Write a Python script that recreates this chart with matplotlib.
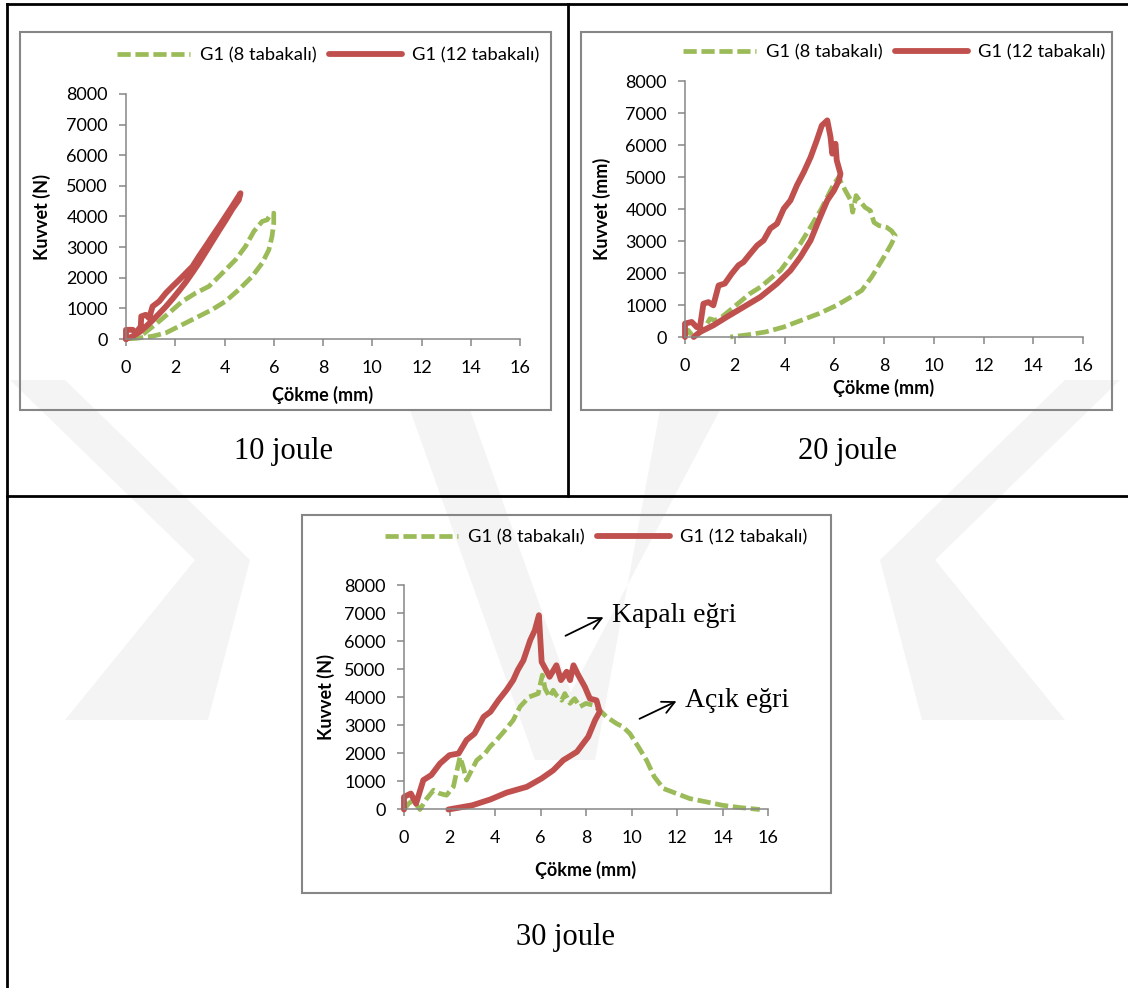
import matplotlib
matplotlib.use("Agg")
import matplotlib.pyplot as plt
from matplotlib.patches import Polygon, Rectangle, FancyArrowPatch
from matplotlib.lines import Line2D

W, H = 1128, 988

# --- veriler ---
x_ticks = [0, 2, 4, 6, 8, 10, 12, 14, 16]
y_ticks = [0, 1000, 2000, 3000, 4000, 5000, 6000, 7000, 8000]
etiket_8 = "G1 (8 tabakalı)"
etiket_12 = "G1 (12 tabakalı)"
x_etiket = "Çökme (mm)"
y_etiket_10 = "Kuvvet (N)"
y_etiket_20 = "Kuvvet (mm)"
y_etiket_30 = "Kuvvet (N)"
basliklar = ["10 joule", "20 joule", "30 joule"]

# 10 joule
x10_12 = [0, 0, 0.27, 0.4, 0.6, 0.62, 0.8, 0.94, 1.08, 1.35, 1.62, 1.89, 2.16, 2.43, 2.7, 2.96,
          3.23, 3.5, 3.77, 4.04, 4.31, 4.65, 4.58, 4.31, 4.04, 3.77, 3.5, 3.23, 2.96, 2.7, 2.43,
          2.16, 1.89, 1.62, 1.35, 1.08, 0.8, 0.54, 0.27, 0]
y10_12 = [0, 300, 300, 200, 410, 740, 790, 680, 1065, 1230, 1500, 1720, 1930, 2150, 2370, 2700,
          3020, 3350, 3670, 4000, 4330, 4760, 4540, 4230, 3870, 3530, 3180, 2830, 2480, 2170, 1860,
          1580, 1310, 1060, 830, 610, 400, 220, 90, 0]
x10_8 = [0, 0.67, 1.35, 1.82, 2.29, 2.83, 3.37, 3.91, 4.45, 4.85, 5.19, 5.53, 5.73, 5.86, 6.0,
         6.0, 5.93, 5.8, 5.53, 5.12, 4.58, 4.04, 3.5, 2.96, 2.29, 1.62, 1.08, 0.4, 0]
y10_8 = [0, 140, 580, 900, 1230, 1500, 1720, 2150, 2590, 3020, 3510, 3840, 3890, 4050, 4110,
         3780, 3350, 2910, 2480, 2040, 1610, 1230, 960, 740, 470, 200, 90, 20, 0]

# 20 joule
x20_12 = [0, 0, 0.27, 0.47, 0.6, 0.74, 0.94, 1.14, 1.35, 1.6, 1.88, 2.15, 2.35, 2.62, 2.9, 3.16,
          3.43, 3.7, 3.97, 4.24, 4.5, 4.78, 5.05, 5.3, 5.5, 5.72, 5.85, 5.92, 6.05, 6.1, 6.25,
          6.19, 5.99, 5.72, 5.38, 5.05, 4.64, 4.24, 3.7, 3.03, 2.36, 1.68, 1.14, 0.6, 0.35]
y20_12 = [0, 420, 470, 310, 300, 1040, 1090, 990, 1610, 1670, 1980, 2240, 2340, 2600, 2860, 3020,
          3390, 3540, 4010, 4270, 4740, 5160, 5620, 6150, 6610, 6770, 6250, 5730, 6040, 5520, 5100,
          4900, 4580, 4270, 3650, 3020, 2500, 2080, 1670, 1250, 940, 625, 365, 156, 0]
x20_8 = [0, 0.13, 0.34, 0.74, 1.0, 1.2, 1.48, 1.8, 2.2, 2.6, 3.03, 3.43, 3.84, 4.24, 4.64, 5.05,
         5.45, 5.72, 5.99, 6.19, 6.24, 6.45, 6.67, 6.74, 6.88, 7.02, 7.24, 7.45, 7.6, 7.8, 8.1,
         8.3, 8.45, 8.3, 7.95, 7.5, 7.1, 6.67, 6.1, 5.38, 4.67, 3.96, 3.25, 2.54, 1.82]
y20_8 = [0, 210, 0, 210, 570, 520, 625, 830, 1090, 1350, 1560, 1820, 2080, 2500, 2920, 3440,
         3960, 4370, 4790, 5000, 4880, 4570, 4260, 3900, 4420, 4260, 4050, 3950, 3580, 3480, 3430,
         3320, 3170, 2910, 2440, 1870, 1450, 1250, 990, 730, 520, 310, 160, 70, 0]

# 30 joule
x30_12 = [0, 0, 0.3, 0.53, 0.85, 1.2, 1.58, 2.0, 2.4, 2.75, 3.1, 3.5, 3.8, 4.15, 4.5, 4.8, 5.0,
          5.25, 5.55, 5.75, 5.93, 6.05, 6.4, 6.7, 6.9, 7.15, 7.3, 7.45, 7.66, 7.95, 8.17, 8.46,
          8.6, 8.4, 8.1, 7.6, 7.0, 6.56, 6.05, 5.4, 4.5, 3.8, 3.0, 1.95]
y30_12 = [0, 450, 570, 210, 1050, 1230, 1640, 1940, 2000, 2480, 2710, 3310, 3490, 3900, 4260,
          4620, 4980, 5330, 6050, 6400, 6940, 5270, 4740, 5150, 4620, 4920, 4620, 5150, 4800,
          4380, 3960, 3900, 3490, 3190, 2600, 2060, 1760, 1400, 1110, 810, 600, 360, 150, 0]
x30_8 = [0, 0.2, 0.4, 0.7, 1.0, 1.3, 1.58, 1.87, 2.17, 2.46, 2.6, 2.75, 2.97, 3.2, 3.56, 3.78,
         4.07, 4.44, 4.8, 5.1, 5.5, 5.9, 6.08, 6.2, 6.4, 6.56, 6.7, 6.93, 7.07, 7.3, 7.5, 7.73,
         8.0, 8.3, 8.6, 8.9, 9.34, 9.63, 9.93, 10.3, 10.66, 11.0, 11.4, 11.98, 12.56, 13.3, 14.0,
         14.76, 15.64]
y30_8 = [0, 210, 330, 0, 390, 690, 570, 510, 810, 1880, 1520, 1050, 1400, 1760, 2000, 2240,
         2480, 2830, 3190, 3670, 4020, 4140, 4800, 4320, 4020, 4260, 4080, 3900, 4140, 3790,
         3960, 3670, 3790, 3730, 3550, 3310, 3070, 2950, 2710, 2240, 1760, 1170, 750, 570, 390,
         270, 150, 70, 0]

KIRMIZI = "#C0504D"
YESIL = "#9BBB59"
GRI = "#868686"

plt.rcParams['font.family'] = ['Lato', 'DejaVu Sans']


def fx(x):
    return x / W


def fy(y):
    return 1 - y / H


def eksen(x0, x1, ytop, ybot):
    return [fx(x0), fy(ybot), (x1 - x0) / W, (ybot - ytop) / H]


fig = plt.figure(figsize=(W / 100, H / 100), dpi=100)
fig.patch.set_facecolor("white")

# filigran (çok soluk)
filigran = [
    [(10, 380), (65, 380), (250, 560), (195, 560)],
    [(195, 560), (250, 560), (208, 720), (65, 720)],
    [(1120, 380), (1065, 380), (880, 560), (935, 560)],
    [(935, 560), (880, 560), (922, 720), (1065, 720)],
    [(410, 410), (470, 410), (595, 760), (535, 760)],
    [(720, 410), (660, 410), (595, 760), (535, 760)],
]
for p in filigran:
    fig.add_artist(Polygon([(fx(a), fy(b)) for a, b in p], closed=True,
                           transform=fig.transFigure, facecolor="#f4f4f4",
                           edgecolor="none", zorder=0))

# tablo çizgileri
for (xa, ya, xb, yb) in [(7, 4, 1128, 4), (7, 4, 7, 988), (568, 4, 568, 496), (7, 496, 1128, 496)]:
    fig.add_artist(Line2D([fx(xa), fx(xb)], [fy(ya), fy(yb)], transform=fig.transFigure,
                          color="black", linewidth=2.0, zorder=1))

paneller = [
    dict(ax=(126, 520, 94, 339), kutu=(20, 32, 551, 410), x8=x10_8, y8=y10_8, x12=x10_12,
         y12=y10_12, ylab=y_etiket_10, ylx=42, xly=395, leg=(117, 55), cap=(283, 452)),
    dict(ax=(685, 1083, 81, 337), kutu=(581, 32, 1112, 410), x8=x20_8, y8=y20_8, x12=x20_12,
         y12=y20_12, ylab=y_etiket_20, ylx=602, xly=388, leg=(683, 52), cap=(847, 452)),
    dict(ax=(404, 768, 585.5, 809.5), kutu=(302, 515, 831, 893), x8=x30_8, y8=y30_8, x12=x30_12,
         y12=y30_12, ylab=y_etiket_30, ylx=326, xly=870, leg=(385, 537), cap=(565, 937)),
]

for i, p in enumerate(paneller):
    kx0, ky0, kx1, ky1 = p['kutu']
    fig.add_artist(Rectangle((fx(kx0), fy(ky1)), (kx1 - kx0) / W, (ky1 - ky0) / H,
                             transform=fig.transFigure, facecolor="none", edgecolor=GRI,
                             linewidth=1.5, zorder=2))
    ax = fig.add_axes(eksen(*p['ax']))
    ax.patch.set_alpha(0)
    ax.plot(p['x8'], p['y8'], color=YESIL, linewidth=3.4, dashes=(2.8, 1.0),
            label=etiket_8, clip_on=False, dash_capstyle='butt')
    ax.plot(p['x12'], p['y12'], color=KIRMIZI, linewidth=4.2, label=etiket_12,
            clip_on=False, solid_joinstyle='round', solid_capstyle='round')
    ax.set_xlim(0, 16)
    ax.set_ylim(0, 8000)
    ax.set_xticks(x_ticks)
    ax.set_yticks(y_ticks)
    for s in ['top', 'right']:
        ax.spines[s].set_visible(False)
    for s in ['left', 'bottom']:
        ax.spines[s].set_color(GRI)
        ax.spines[s].set_linewidth(1.1)
    ax.tick_params(axis='both', direction='out', length=5, width=1.1, color=GRI,
                   labelsize=13, labelcolor='black')
    ax.tick_params(axis='x', pad=10)
    ax.tick_params(axis='y', pad=8)
    x0, x1, yt, yb = p['ax']
    ax.set_xlabel(x_etiket, fontsize=13, fontweight='bold')
    ax.xaxis.set_label_coords(0.5, (yb - p['xly']) / (yb - yt))
    ax.set_ylabel(p['ylab'], fontsize=13, fontweight='bold')
    ax.yaxis.set_label_coords((p['ylx'] - x0) / (x1 - x0), 0.5)
    ax.xaxis.label.set_va('center')
    ax.yaxis.label.set_va('center')
    ax.legend(loc='center left', bbox_to_anchor=(fx(p['leg'][0]), fy(p['leg'][1])),
              bbox_transform=fig.transFigure, ncol=2, frameon=False, fontsize=13.2,
              handlelength=4.0, handletextpad=0.5, columnspacing=0.7, borderpad=0,
              borderaxespad=0)
    fig.text(fx(p['cap'][0]), fy(p['cap'][1]), basliklar[i], fontsize=22,
             family='Liberation Serif', ha='center', va='center')

# oklar ve açıklamalar
for (xa, ya, xb, yb, metin) in [(563, 637, 606, 616, "Kapalı eğri"), (637, 720, 679, 700, "Açık eğri")]:
    fig.add_artist(FancyArrowPatch(
        (fx(xa), fy(ya)), (fx(xb), fy(yb)), transform=fig.transFigure,
        arrowstyle='->', mutation_scale=22, color='black', linewidth=1.3))
    fig.text(fx(xb + 6), fy(yb), metin, fontsize=20, family='Liberation Serif',
             ha='left', va='center')

fig.savefig("out.png", dpi=100)
